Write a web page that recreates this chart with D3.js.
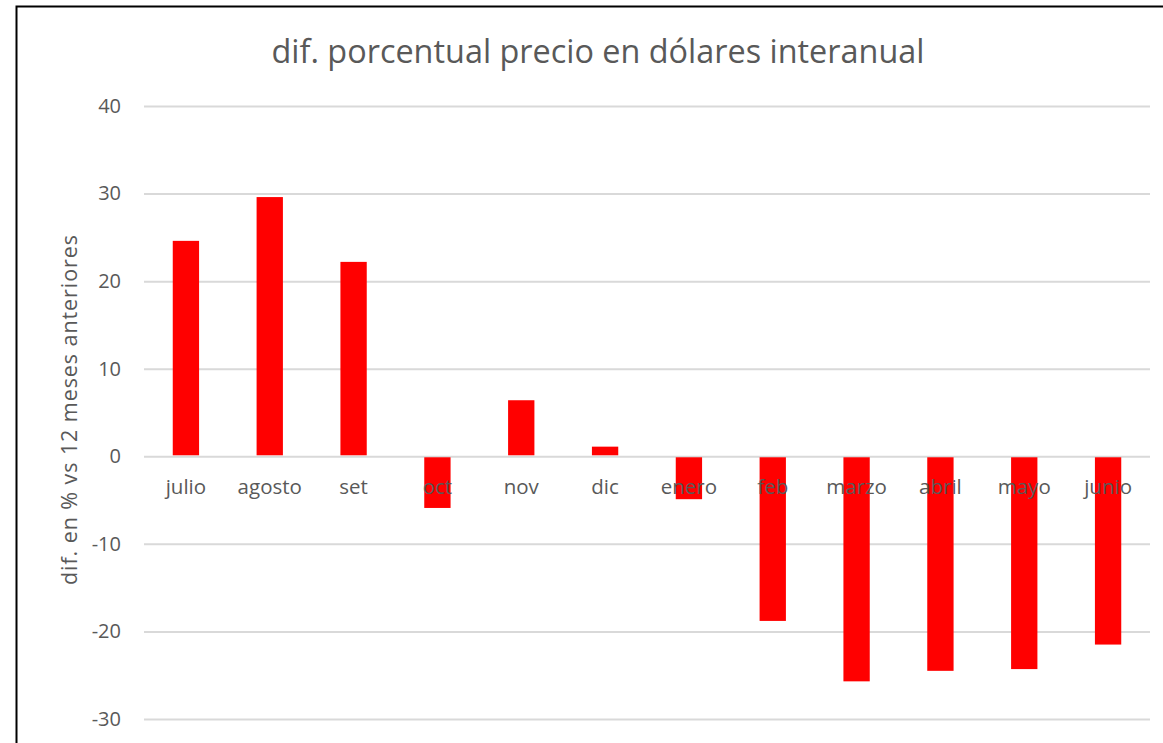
<!DOCTYPE html>
<html>
<head>
<meta charset="utf-8">
<script src="https://cdn.jsdelivr.net/npm/d3@7"></script>
<style>
  body { margin: 0; background: #fff; }
  svg text { font-family: "Open Sans", sans-serif; fill: #595959; }
</style>
</head>
<body>
<div id="chart"></div>
<script>
// month labels and year-on-year % change
const months = ['julio', 'agosto', 'set', 'oct', 'nov', 'dic', 'enero', 'feb', 'marzo', 'abril', 'mayo', 'junio'];
const values = [24.6, 29.6, 22.2, -5.9, 6.4, 1.1, -4.9, -18.8, -25.7, -24.5, -24.3, -21.5];
const yTicks = [40, 30, 20, 10, 0, -10, -20, -30];

function renderChart(containerId) {
  const container = document.getElementById(containerId);
  const width = 1163;
  const height = 743;
  const margin = { top: 106, right: 13, bottom: 24, left: 144 };

  const svg = d3.select(container)
    .append('svg')
    .attr('width', width)
    .attr('height', height);

  // outer frame (only left + top visible in the crop)
  svg.append('path')
    .attr('d', `M16.5,${height} L16.5,6.5 L${width},6.5`)
    .attr('fill', 'none')
    .attr('stroke', '#000')
    .attr('stroke-width', 2);

  const x = d3.scaleBand()
    .domain(months)
    .range([margin.left, width - margin.right])
    .paddingInner(0.686)
    .paddingOuter(0.343);

  const y = d3.scaleLinear()
    .domain([-30, 40])
    .range([719, margin.top]);

  // gridlines + y labels
  const yAxis = d3.axisLeft(y)
    .tickValues(yTicks)
    .tickFormat(d => String(d))
    .tickSize(-(width - margin.right - margin.left))
    .tickPadding(23);

  svg.append('g')
    .attr('transform', `translate(${margin.left}, 0)`)
    .call(yAxis)
    .call(g => g.select('.domain').remove())
    .call(g => g.selectAll('.tick line').attr('stroke', '#d9d9d9').attr('stroke-width', 2))
    .call(g => g.selectAll('.tick text')
      .style('font-size', '20px')
      .attr('fill', '#595959'));

  // bars
  svg.selectAll('.bar')
    .data(values)
    .enter().append('rect')
    .attr('class', 'bar')
    .attr('x', (d, i) => x(months[i]))
    .attr('width', x.bandwidth())
    .attr('y', d => d >= 0 ? y(d) : y(0) + 1)
    .attr('height', d => Math.abs(y(d) - y(0)) - 1)
    .attr('fill', '#ff0000');

  // category labels, drawn above the bars like the original
  svg.selectAll('.cat')
    .data(months)
    .enter().append('text')
    .attr('class', 'cat')
    .attr('x', d => x(d) + x.bandwidth() / 2)
    .attr('y', 494)
    .attr('text-anchor', 'middle')
    .style('font-size', '20.5px')
    .text(d => d);

  // title
  svg.append('text')
    .attr('x', 598)
    .attr('y', 63)
    .attr('text-anchor', 'middle')
    .style('font-size', '32.4px')
    .text('dif. porcentual precio en dólares interanual');

  // y axis title
  svg.append('text')
    .attr('transform', 'translate(77, 410) rotate(-90)')
    .attr('text-anchor', 'middle')
    .style('font-size', '21.5px')
    .attr('textLength', 350)
    .attr('lengthAdjust', 'spacing')
    .text('dif. en % vs 12 meses anteriores');
}

renderChart('chart');
</script>
</body>
</html>
